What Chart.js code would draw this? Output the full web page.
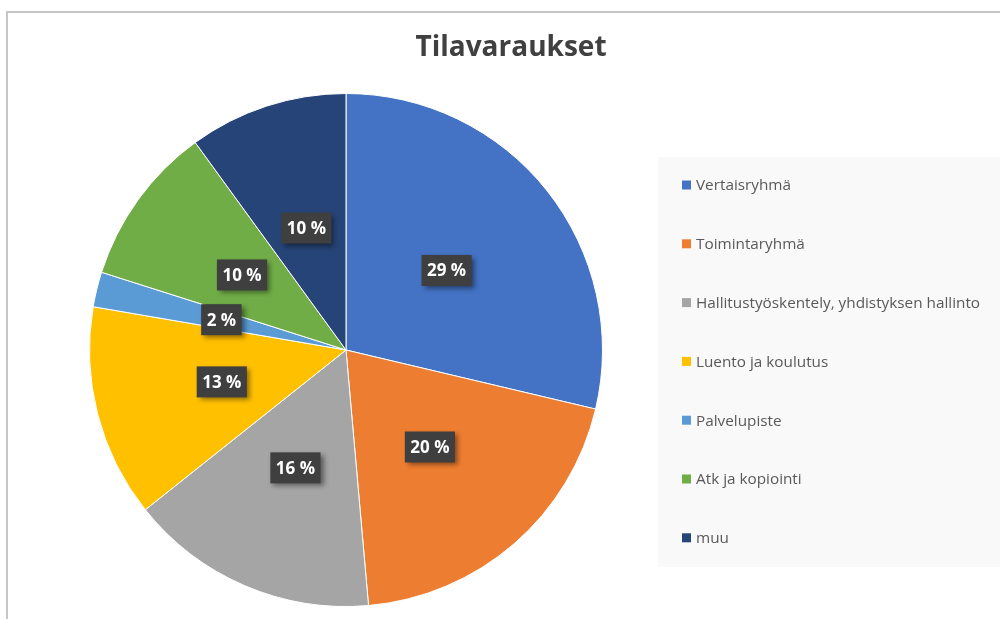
<!DOCTYPE html>
<html>
<head>
<meta charset="utf-8">
<script src="https://cdn.jsdelivr.net/npm/chart.js@4/dist/chart.umd.min.js"></script>
<style>
html,body{margin:0;padding:0;background:#fff;}
#wrap{position:relative;width:1000px;height:619px;}
</style>
</head>
<body>
<div id="wrap"><canvas id="c" width="1000" height="619"></canvas></div>
<script>
const titleText = 'Tilavaraukset';
const categories = ['Vertaisryhmä','Toimintaryhmä','Hallitustyöskentely, yhdistyksen hallinto','Luento ja koulutus','Palvelupiste','Atk ja kopiointi','muu'];
const values = [28.7, 19.9, 15.7, 13.4, 2.2, 10.1, 10.0];
const colors = ['#4472C4','#ED7D31','#A5A5A5','#FFC000','#5B9BD5','#70AD47','#264478'];
const FONT = '"Open Sans", "Noto Sans", sans-serif';

const decor = {
  id: 'decor',
  beforeDraw(chart) {
    const ctx = chart.ctx;
    ctx.save();
    ctx.fillStyle = '#fff';
    ctx.fillRect(0,0,chart.width,chart.height);
    // frame
    ctx.strokeStyle = '#c6c6c6';
    ctx.lineWidth = 2;
    ctx.beginPath();
    ctx.moveTo(7, 619); ctx.lineTo(7, 12); ctx.lineTo(1000, 12);
    ctx.stroke();
    // legend background
    ctx.fillStyle = '#f9f9f9';
    ctx.fillRect(658, 157, 342, 410);
    // title
    ctx.fillStyle = '#404040';
    ctx.font = 'bold 28px ' + FONT;
    ctx.textAlign = 'center';
    ctx.textBaseline = 'middle';
    ctx.fillText(titleText, 511, 48);
    // legend
    ctx.font = '15.3px ' + FONT;
    ctx.textAlign = 'left';
    categories.forEach((c, i) => {
      const y = 185 + i * 58.8;
      ctx.fillStyle = colors[i];
      ctx.fillRect(682, y - 4.5, 9, 9);
      ctx.fillStyle = '#595959';
      ctx.fillText(c, 696, y + 1);
    });
    ctx.restore();
  },
  afterDatasetsDraw(chart) {
    const ctx = chart.ctx;
    const meta = chart.getDatasetMeta(0);
    const total = values.reduce((a,b)=>a+b,0);
    ctx.save();
    ctx.font = 'bold 17px ' + FONT;
    ctx.textAlign = 'center';
    ctx.textBaseline = 'middle';
    meta.data.forEach((arc, i) => {
      const p = arc.getProps(['x','y','startAngle','endAngle','outerRadius'], true);
      const mid = (p.startAngle + p.endAngle) / 2;
      const r = p.outerRadius * 0.5;
      const x = p.x + Math.cos(mid) * r;
      const y = p.y + Math.sin(mid) * r;
      const txt = Math.round(values[i] / total * 100) + ' %';
      const w = ctx.measureText(txt).width + 11;
      const h = 31;
      ctx.save();
      ctx.shadowColor = 'rgba(0,0,0,0.45)';
      ctx.shadowBlur = 5;
      ctx.shadowOffsetX = 3;
      ctx.shadowOffsetY = 3;
      ctx.fillStyle = '#3f3f3f';
      ctx.fillRect(x - w/2, y - h/2, w, h);
      ctx.restore();
      ctx.fillStyle = '#ffffff';
      ctx.fillText(txt, x, y + 1);
    });
    ctx.restore();
  }
};

new Chart(document.getElementById('c'), {
  type: 'pie',
  data: {
    labels: categories,
    datasets: [{
      data: values,
      backgroundColor: colors,
      borderColor: '#ffffff',
      borderWidth: 1
    }]
  },
  options: {
    responsive: false,
    animation: false,
    layout: { padding: { left: 89, right: 397, top: 93, bottom: 12 } },
    plugins: { legend: { display: false }, title: { display: false }, tooltip: { enabled: false } }
  },
  plugins: [decor]
});
</script>
</body>
</html>
